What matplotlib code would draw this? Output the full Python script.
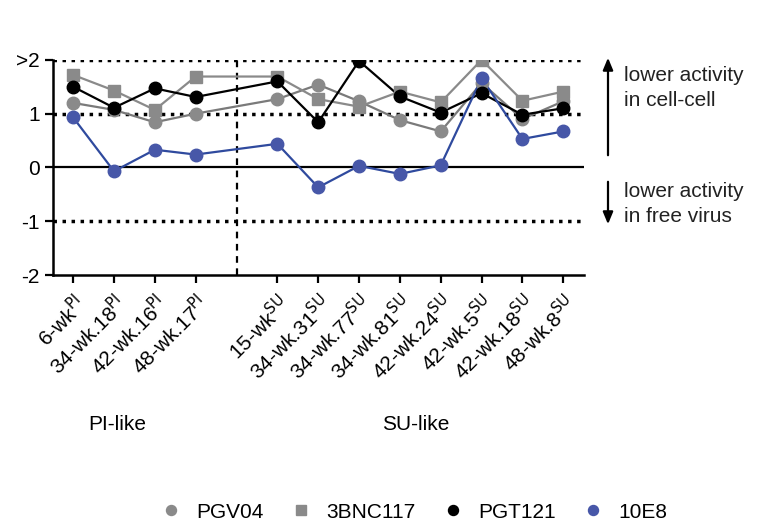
import numpy as np
from matplotlib import pyplot as plt
from matplotlib.patches import FancyArrowPatch

plt.rcParams['font.family'] = ['Liberation Sans', 'DejaVu Sans']

# Isolates (positions 0-3 PI-like, 5-12 SU-like, gap at 4)
pi_names = ["6-wk", "34-wk.18", "42-wk.16", "48-wk.17"]
su_names = ["15-wk", "34-wk.31", "34-wk.77", "34-wk.81",
            "42-wk.24", "42-wk.5", "42-wk.18", "48-wk.8"]

pgv04 = [1.20, 1.07, 0.84, 1.00, 1.27, 1.54, 1.23, 0.88, 0.67, 1.57, 0.90, 1.23]
bnc117 = [1.72, 1.43, 1.07, 1.69, 1.69, 1.27, 1.13, 1.41, 1.21, 2.00, 1.24, 1.41]
pgt121 = [1.50, 1.11, 1.47, 1.31, 1.60, 0.84, 1.98, 1.32, 1.02, 1.38, 0.98, 1.10]
e10e8 = [0.93, -0.07, 0.33, 0.24, 0.44, -0.37, 0.03, -0.12, 0.04, 1.66, 0.53, 0.67]

xpos = list(range(0, 4)) + list(range(5, 13))
labels = [n + r"$^{\mathrm{PI}}$" for n in pi_names] + [n + r"$^{\mathrm{SU}}$" for n in su_names]

fig = plt.figure(figsize=(7.64, 5.25), dpi=100)
ax = fig.add_axes([0.069, 0.476, 0.695, 0.41])

# reference lines
for yv in [2, 1, -1]:
    ax.axhline(yv, color="black", lw=2.5, ls=(0, (1, 1.6)), zorder=1)
ax.axhline(0, color="black", lw=1.6, zorder=1)
ax.plot([4, 4], [-2, 2], color="black", lw=1.6, ls=(0, (3, 2.5)), zorder=1)

series = [
    ("PGV04", pgv04, "o", "#8a8a8a", "#7a7a7a"),
    ("3BNC117", bnc117, "s", "#8a8a8a", "#8a8a8a"),
    ("PGT121", pgt121, "o", "black", "black"),
    ("10E8", e10e8, "o", "#4757a8", "#2f4a9e"),
]
handles = []
for name, vals, mk, mc, lc in series:
    ax.plot(xpos, vals, color=lc, lw=1.6, zorder=2)
    h, = ax.plot(xpos, vals, ls="none", marker=mk, markersize=9,
                 color=mc, zorder=3, label=name)
    handles.append(h)

ax.set_xlim(-0.5, 12.5)
ax.set_ylim(-2, 2)
ax.set_yticks([-2, -1, 0, 1, 2])
ax.set_yticklabels(["-2", "-1", "0", "1", ">2"], fontsize=15)
ax.set_xticks(xpos)
ax.set_xticklabels(labels, rotation=45, ha="right", rotation_mode="anchor", fontsize=15)
ax.tick_params(axis="both", direction="out", width=1.6, length=6)
ax.tick_params(axis="x", pad=6)
for s in ["top", "right"]:
    ax.spines[s].set_visible(False)
for s in ["left", "bottom"]:
    ax.spines[s].set_linewidth(1.8)

# group labels
fig.text(117 / 764, 1 - 425 / 525, "PI-like", fontsize=15, ha="center", va="center")
fig.text(416 / 764, 1 - 425 / 525, "SU-like", fontsize=15, ha="center", va="center")

# right-hand annotations
fig.patches.append(FancyArrowPatch(
    (608 / 764, 1 - 158 / 525), (608 / 764, 1 - 55 / 525), transform=fig.transFigure,
    arrowstyle="-|>,head_width=0.25,head_length=0.6", mutation_scale=12, lw=1.6, color="black"))
fig.patches.append(FancyArrowPatch(
    (608 / 764, 1 - 179 / 525), (608 / 764, 1 - 227 / 525), transform=fig.transFigure,
    arrowstyle="-|>,head_width=0.25,head_length=0.6", mutation_scale=12, lw=1.6, color="black"))
fig.text(624 / 764, 1 - 88 / 525, "lower activity\nin cell-cell", fontsize=15,
         ha="left", va="center", color="#222222", linespacing=1.35)
fig.text(624 / 764, 1 - 204 / 525, "lower activity\nin free virus", fontsize=15,
         ha="left", va="center", color="#222222", linespacing=1.35)

fig.legend(handles=handles, loc="center", bbox_to_anchor=(415 / 764, 1 - 512 / 525),
           ncol=4, frameon=False, fontsize=15, markerscale=0.8, handlelength=0.8,
           columnspacing=1.4, handletextpad=0.8)

plt.savefig("out.png", dpi=100)
